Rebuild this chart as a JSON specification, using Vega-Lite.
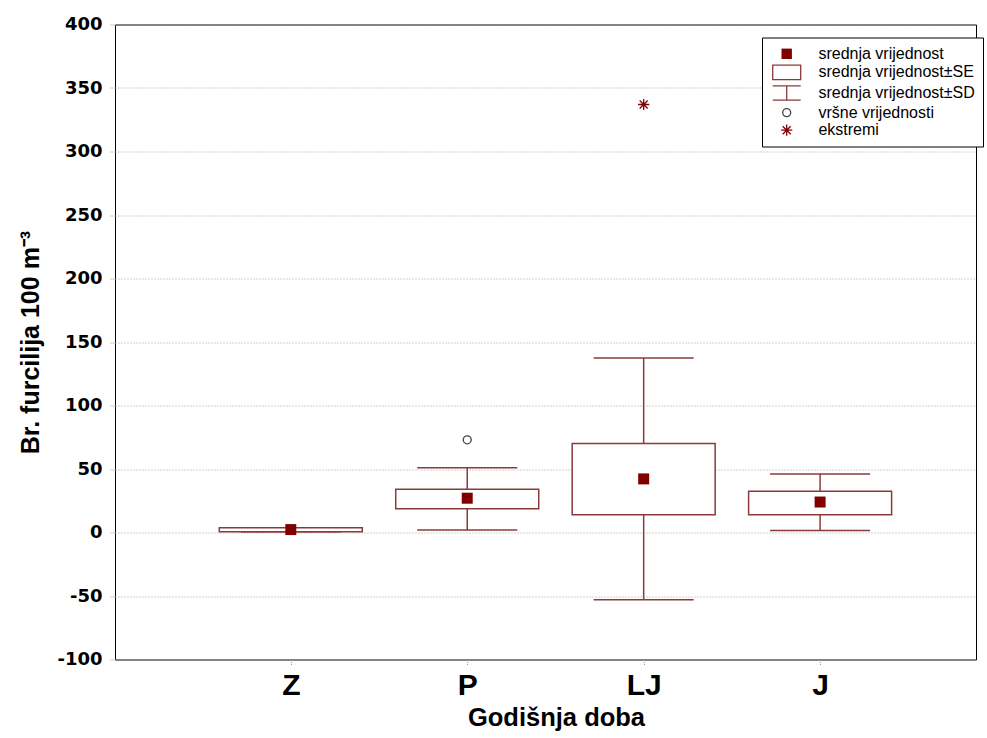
{
  "$schema": "https://vega.github.io/schema/vega-lite/v6.json",
  "width": 861,
  "height": 635,
  "autosize": {"type": "none"},
  "padding": {"left": 115, "top": 24.5, "right": 11, "bottom": 78.5},
  "background": "white",
  "config": {
    "view": {"stroke": "#000000", "strokeWidth": 1},
    "axis": {
      "domain": false,
      "tickColor": "#999999",
      "tickDash": [1, 1],
      "tickSize": 5,
      "labelColor": "#000000",
      "titleColor": "#000000"
    }
  },
  "datasets": {
    "stats": [
      {"sezona": "Z", "kind": "srednja vrijednost", "mean": 2.3, "se_lo": 0.6, "se_hi": 3.7, "sd_lo": 0.6, "sd_hi": 3.7},
      {"sezona": "P", "kind": "srednja vrijednost", "mean": 27, "se_lo": 18.7, "se_hi": 34, "sd_lo": 2, "sd_hi": 51},
      {"sezona": "LJ", "kind": "srednja vrijednost", "mean": 42.2, "se_lo": 14, "se_hi": 70, "sd_lo": -53, "sd_hi": 137.5},
      {"sezona": "J", "kind": "srednja vrijednost", "mean": 24, "se_lo": 14, "se_hi": 32.5, "sd_lo": 1.5, "sd_hi": 46}
    ],
    "pts": [
      {"sezona": "P", "kind": "vršne vrijednosti", "value": 73},
      {"sezona": "LJ", "kind": "ekstremi", "value": 337}
    ]
  },
  "encoding": {
    "x": {
      "field": "sezona",
      "type": "nominal",
      "sort": ["Z", "P", "LJ", "J"],
      "scale": {"type": "point", "domain": ["Z", "P", "LJ", "J"], "padding": 0.94, "align": 0.53},
      "axis": {
        "title": "Godišnja doba",
        "labelAngle": 0,
        "labelFont": "Liberation Sans",
        "labelFontWeight": "bold",
        "labelFontSize": 30,
        "labelPadding": 6,
        "titleFont": "Liberation Sans",
        "titleFontWeight": "bold",
        "titleFontSize": 25.5,
        "titlePadding": 5,
        "titleX": 441,
        "titleAlign": "center",
        "grid": false
      }
    }
  },
  "layer": [
    {
      "data": {"name": "stats"},
      "mark": {"type": "rule", "color": "#8b3a3a", "strokeWidth": 1.5},
      "encoding": {
        "y": {
          "field": "sd_lo",
          "type": "quantitative",
          "scale": {"domain": [-100, 400], "nice": false, "zero": false},
          "axis": {
            "title": "Br. furcilija 100 m⁻³",
            "values": [-100, -50, 0, 50, 100, 150, 200, 250, 300, 350, 400],
            "labelExpr": "toString(datum.value)",
            "labelFont": "DejaVu Sans",
            "labelFontWeight": "bold",
            "labelFontSize": 18,
            "labelPadding": 8,
            "titleFont": "Liberation Sans",
            "titleFontWeight": "bold",
            "titleFontSize": 25,
            "titlePadding": 13,
            "grid": true,
            "gridColor": "#a0a0a0",
            "gridDash": [1, 2],
            "gridWidth": 1
          }
        },
        "y2": {"field": "sd_hi"}
      }
    },
    {
      "data": {"name": "stats"},
      "mark": {"type": "tick", "color": "#8b3a3a", "size": 100, "thickness": 1.5, "opacity": 1},
      "encoding": {"y": {"field": "sd_hi", "type": "quantitative"}}
    },
    {
      "data": {"name": "stats"},
      "mark": {"type": "tick", "color": "#8b3a3a", "size": 100, "thickness": 1.5, "opacity": 1},
      "encoding": {"y": {"field": "sd_lo", "type": "quantitative"}}
    },
    {
      "data": {"name": "stats"},
      "mark": {"type": "bar", "size": 143, "fill": "#ffffff", "stroke": "#8b3a3a", "strokeWidth": 1.5},
      "encoding": {
        "y": {"field": "se_lo", "type": "quantitative"},
        "y2": {"field": "se_hi"}
      }
    },
    {
      "data": {"name": "stats"},
      "mark": {"type": "point", "strokeWidth": 1.3, "opacity": 1, "size": 286},
      "encoding": {
        "y": {"field": "mean", "type": "quantitative"},
        "shape": {
          "field": "kind",
          "type": "nominal",
          "scale": {
            "domain": ["srednja vrijednost", "srednja vrijednost±SE", "srednja vrijednost±SD", "vršne vrijednosti", "ekstremi"],
            "range": [
              "M-0.65,-0.65H0.65V0.65H-0.65Z",
              "M-1.75,-0.9H1.75V0.9H-1.75Z",
              "M-1.75,-0.9H1.75M0,-0.9V0.9M-1.75,0.9H1.75",
              "M0.5,0A0.5,0.5 0 1,1 -0.5,0A0.5,0.5 0 1,1 0.5,0Z",
              "M0,-0.7V0.7M-0.7,0H0.7M-0.5,-0.5L0.5,0.5M-0.5,0.5L0.5,-0.5"
            ]
          },
          "legend": {
            "title": null,
            "orient": "none",
            "legendX": 647,
            "legendY": 13,
            "padding": 7.3,
            "strokeColor": "#000000",
            "fillColor": "#ffffff",
            "symbolSize": 256,
            "symbolStrokeWidth": 1.3,
            "symbolOpacity": 1,
            "symbolOffset": 8.4,
            "labelOffset": 22.7,
            "rowPadding": 0.6,
            "labelFont": "Liberation Sans",
            "labelFontSize": 16,
            "labelColor": "#000000",
            "labelLimit": 300
          }
        },
        "fill": {
          "field": "kind",
          "type": "nominal",
          "scale": {
            "domain": ["srednja vrijednost", "srednja vrijednost±SE", "srednja vrijednost±SD", "vršne vrijednosti", "ekstremi"],
            "range": ["#800000", "transparent", "transparent", "transparent", "transparent"]
          }
        },
        "stroke": {
          "field": "kind",
          "type": "nominal",
          "scale": {
            "domain": ["srednja vrijednost", "srednja vrijednost±SE", "srednja vrijednost±SD", "vršne vrijednosti", "ekstremi"],
            "range": ["transparent", "#8b3a3a", "#8b3a3a", "#444444", "#800000"]
          }
        }
      }
    },
    {
      "data": {"name": "pts"},
      "mark": {"type": "point", "strokeWidth": 1.3, "opacity": 1, "size": 256},
      "encoding": {
        "y": {"field": "value", "type": "quantitative"},
        "shape": {"field": "kind", "type": "nominal"},
        "fill": {"field": "kind", "type": "nominal"},
        "stroke": {"field": "kind", "type": "nominal"}
      }
    }
  ]
}
